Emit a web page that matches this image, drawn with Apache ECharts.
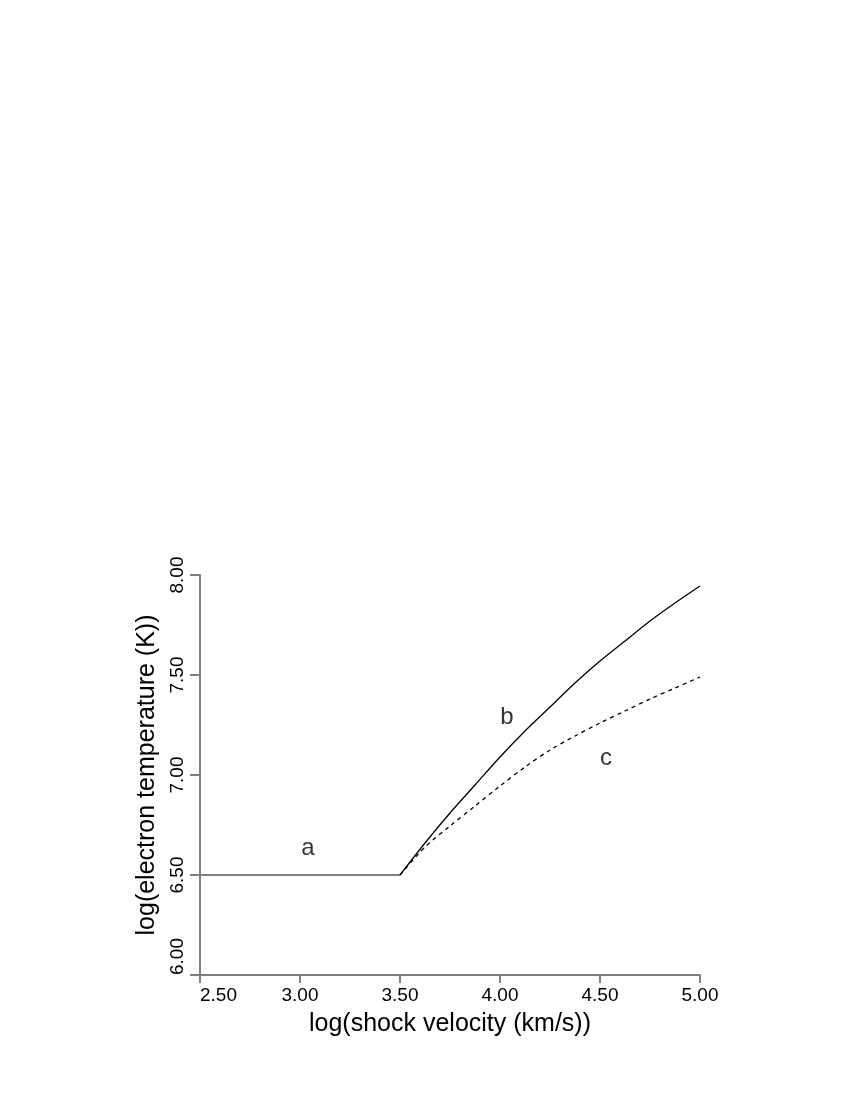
<!DOCTYPE html>
<html>
<head>
<meta charset="utf-8">
<script src="https://cdn.jsdelivr.net/npm/echarts@6/dist/echarts.min.js"></script>
<style>
html,body{margin:0;padding:0;background:#fff;}
#chart{width:850px;height:1100px;}
</style>
</head>
<body>
<div id="chart"></div>
<script>
// Data
const xTicks = [2.5, 3.0, 3.5, 4.0, 4.5, 5.0];
const yTicks = [6.0, 6.5, 7.0, 7.5, 8.0];
const curveA_x = [2.5, 3.5];
const curveA_y = [6.5, 6.5];
const curveB_x = [3.5, 3.625, 3.75, 3.875, 4.0, 4.125, 4.25, 4.375, 4.5, 4.625, 4.75, 4.875, 5.0];
const curveB_y = [6.5, 6.66, 6.81, 6.95, 7.09, 7.22, 7.34, 7.46, 7.57, 7.67, 7.77, 7.86, 7.945];
const curveC_x = [3.5, 3.625, 3.75, 3.875, 4.0, 4.125, 4.25, 4.375, 4.5, 4.625, 4.75, 4.875, 5.0];
const curveC_y = [6.5, 6.64, 6.745, 6.845, 6.945, 7.04, 7.125, 7.195, 7.26, 7.32, 7.38, 7.435, 7.49];
const annotText = ['a', 'b', 'c'];
const annotX = [3.04, 4.035, 4.53];
const annotY = [6.635, 7.29, 7.085];

const zip = (xs, ys) => xs.map((x, i) => [x, ys[i]]);
const FONT = '"Liberation Sans", Arial, Helvetica, sans-serif';
const AXIS_COLOR = '#808080';

const chart = echarts.init(document.getElementById('chart'), null, {renderer: 'canvas'});
chart.setOption({
  backgroundColor: '#ffffff',
  animation: false,
  grid: {left: 200, right: 150, top: 575, bottom: 125, containLabel: false},
  xAxis: {
    type: 'value',
    min: xTicks[0], max: xTicks[xTicks.length - 1], interval: 0.5,
    name: 'log(shock velocity (km/s))',
    nameLocation: 'middle', nameGap: 37,
    nameTextStyle: {fontFamily: FONT, fontSize: 25, color: '#000'},
    axisLine: {show: true, onZero: false, lineStyle: {color: AXIS_COLOR, width: 2}},
    axisTick: {show: true, length: 8, lineStyle: {color: AXIS_COLOR, width: 2}},
    axisLabel: {fontFamily: FONT, fontSize: 19, color: '#000', margin: 11,
      alignMinLabel: 'left',
      formatter: v => v.toFixed(2)},
    splitLine: {show: false}
  },
  yAxis: {
    type: 'value',
    min: yTicks[0], max: yTicks[yTicks.length - 1], interval: 0.5,
    name: 'log(electron temperature (K))',
    nameLocation: 'middle', nameGap: 38, nameRotate: 90,
    nameTextStyle: {fontFamily: FONT, fontSize: 25, color: '#000'},
    axisLine: {show: true, onZero: false, lineStyle: {color: AXIS_COLOR, width: 2}},
    axisTick: {show: true, length: 10, lineStyle: {color: AXIS_COLOR, width: 2}},
    axisLabel: {fontFamily: FONT, fontSize: 19, color: '#000', margin: 13, rotate: 90,
      alignMinLabel: 'left',
      formatter: v => v.toFixed(2)},
    splitLine: {show: false}
  },
  series: [
    {type: 'line', data: zip(curveA_x, curveA_y), showSymbol: false, silent: true,
      lineStyle: {color: AXIS_COLOR, width: 2}},
    {type: 'line', data: zip(curveB_x, curveB_y), showSymbol: false, smooth: 0.3, silent: true,
      lineStyle: {color: '#000', width: 1.3}},
    {type: 'line', data: zip(curveC_x, curveC_y), showSymbol: false, smooth: 0.3, silent: true,
      lineStyle: {color: '#000', width: 1.3, type: [4, 4]}},
    {type: 'scatter', symbolSize: 0, silent: true,
      data: annotText.map((t, i) => ({value: [annotX[i], annotY[i]], name: t})),
      label: {show: true, position: 'inside', formatter: p => p.name,
        fontFamily: FONT, fontSize: 24, color: '#000'}}
  ]
});
</script>
</body>
</html>
